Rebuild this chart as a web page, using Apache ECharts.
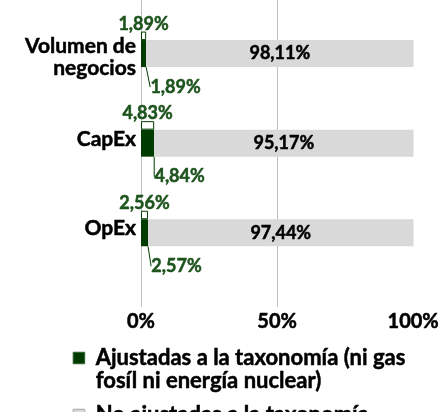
<!DOCTYPE html>
<html><head><meta charset="utf-8">
<script src="https://cdn.jsdelivr.net/npm/echarts@6/dist/echarts.min.js"></script>
<style>html,body{margin:0;padding:0;background:#fff}#c{width:442px;height:412px}</style>
</head><body><div id="c"></div>
<script>
const categories = ['Volumen de\nnegocios', 'CapEx', 'OpEx'];
const alignedValues = [1.89, 4.84, 2.57];
const notAlignedValues = [98.11, 95.17, 97.44];
const excludingValues = [1.89, 4.83, 2.56];
const xTicks = [0, 50, 100];
const seriesNames = ['Ajustadas a la taxonomía (ni gas\nfosíl ni energía nuclear)', 'No ajustadas a la taxonomía'];

const FONT = 'Lato';
const GREEN = '#003c00';
const LABEL_GREEN = '#1d531d';
const GREY = '#d9d9d9';
const BW = 0.5;
const fmt = v => v.toFixed(2).replace('.', ',') + '%';

const chart = echarts.init(document.getElementById('c'), null, {renderer: 'canvas'});
chart.setOption({
  animation: false,
  backgroundColor: '#fff',
  grid: [
    {left: 141, right: 28.5, top: 4.5, height: 268.8},
    {left: 141, right: 28.5, top: 0, bottom: 105}
  ],
  xAxis: [
    {gridIndex: 0, type: 'value', min: xTicks[0], max: xTicks[2], show: false},
    {gridIndex: 1, type: 'value', min: xTicks[0], max: xTicks[2], interval: xTicks[1] - xTicks[0],
     axisLine: {show: false}, axisTick: {show: false},
     splitLine: {show: true, showMaxLine: false, lineStyle: {color: '#bfbfbf', width: 1}},
     axisLabel: {formatter: '{value}%', margin: 5, color: '#000', fontFamily: FONT, fontWeight: 'bold', fontSize: 20,
       textBorderColor: '#000', textBorderWidth: BW}}
  ],
  yAxis: [
    {gridIndex: 0, type: 'category', inverse: true, data: categories,
     axisLine: {show: false}, axisTick: {show: false}, splitLine: {show: false},
     axisLabel: {margin: 5, color: '#000', fontFamily: FONT, fontWeight: 'bold', fontSize: 21, lineHeight: 22, align: 'right',
       formatter: v => {
         const lines = v.split('\n');
         if (lines.length > 1) return '{e|}\n' + lines.map(l => '{v|' + l + '}').join('\n');
         return '{v|' + v + '}';
       },
       rich: {
         e: {lineHeight: 16, fontSize: 21, fontFamily: FONT},
         v: {lineHeight: 22, fontSize: 21, fontFamily: FONT, fontWeight: 'bold', color: '#000',
             textBorderColor: '#000', textBorderWidth: BW}
       }}},
    {gridIndex: 1, type: 'value', show: false}
  ],
  legend: {
    orient: 'vertical', left: 72.7, top: 323.5, padding: 0, itemGap: 11,
    itemWidth: 11.5, itemHeight: 11.5, icon: 'rect',
    formatter: name => {
      const lines = name.split('\n');
      const body = lines.map(l => '{t|' + l + '}').join('\n');
      return lines.length > 1 ? '{t|}\n' + body : body;
    },
    textStyle: {color: '#000', fontFamily: FONT, fontWeight: 'bold', fontSize: 22, lineHeight: 23,
      rich: {t: {color: '#000', fontFamily: FONT, fontWeight: 'bold', fontSize: 22, lineHeight: 23, padding: [0, 0, 0, 6],
                 textBorderColor: '#000', textBorderWidth: BW}}},
    data: [
      {name: seriesNames[0], itemStyle: {color: GREEN, borderColor: '#2f5f2f', borderWidth: 1}},
      {name: seriesNames[1], itemStyle: {color: GREY, borderColor: '#a6a6a6', borderWidth: 1}}
    ]
  },
  series: [
    {name: 'excl', type: 'bar', stack: 'excl', xAxisIndex: 0, yAxisIndex: 0, barWidth: 8.5, barGap: '0%',
     data: excludingValues,
     itemStyle: {color: '#fff', borderColor: GREEN, borderWidth: 1},
     label: {show: true, position: 'top', distance: -1.5, formatter: p => fmt(p.value),
             color: LABEL_GREEN, fontFamily: FONT, fontWeight: 'bold', fontSize: 18,
             textBorderColor: LABEL_GREEN, textBorderWidth: BW}},
    {name: seriesNames[0], type: 'bar', stack: 'main', xAxisIndex: 0, yAxisIndex: 0, barWidth: 27, barGap: '0%',
     data: alignedValues,
     itemStyle: {color: GREEN},
     label: {show: true, position: 'bottom', distance: 5, formatter: p => fmt(p.value),
             color: LABEL_GREEN, fontFamily: FONT, fontWeight: 'bold', fontSize: 18,
             textBorderColor: LABEL_GREEN, textBorderWidth: BW},
     labelLayout: {dx: 32, dy: 6},
     labelLine: {show: true, length: 0, length2: 0, lineStyle: {color: GREEN, width: 1}}},
    {name: seriesNames[1], type: 'bar', stack: 'main', xAxisIndex: 0, yAxisIndex: 0, barWidth: 27, barGap: '0%',
     data: notAlignedValues,
     itemStyle: {color: GREY},
     label: {show: true, position: 'inside', formatter: p => fmt(p.value),
             color: '#000', fontFamily: FONT, fontWeight: 'bold', fontSize: 18,
             textBorderColor: '#000', textBorderWidth: BW}}
  ]
});
</script></body></html>
